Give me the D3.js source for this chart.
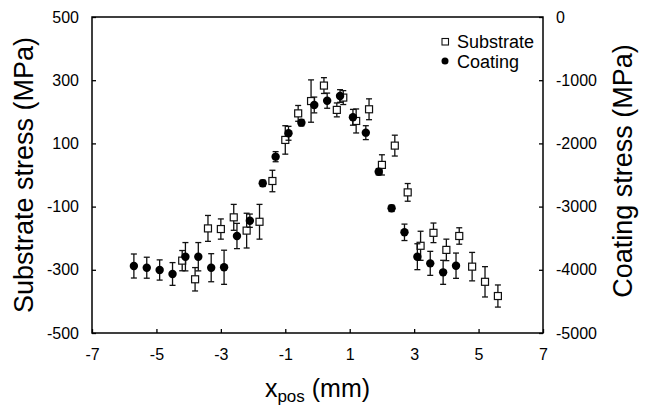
<!DOCTYPE html>
<html>
<head>
<meta charset="utf-8">
<script src="https://cdn.jsdelivr.net/npm/d3@7"></script>
<style>
  body { margin: 0; background: #fff; }
  svg text { font-family: "Liberation Sans", Arial, sans-serif; fill: #000; }
</style>
</head>
<body>
<div id="chart"></div>
<script>

// substrate (open squares, left axis)
var sub_x   = [-4.2, -3.8, -3.4, -3.0, -2.6, -2.2, -1.8, -1.4, -1.0, -0.6, -0.2, 0.2, 0.6, 0.8, 1.2, 1.6, 2.0, 2.4, 2.8, 3.2, 3.6, 4.0, 4.4, 4.8, 5.2, 5.6];
var sub_val = [-271, -330, -169, -171, -134, -176, -148, -19, 111, 195, 234, 283, 206, 245, 171, 208, 32, 93, -55, -224, -183, -237, -193, -290, -338, -383];
var sub_err = [32, 37, 41, 32, 41, 55, 55, 34, 45, 25, 67, 25, 22, 22, 38, 33, 32, 33, 28, 46, 31, 34, 26, 45, 48, 35];

// coating (filled circles, right axis)
var coat_x   = [-5.7, -5.3, -4.9, -4.5, -4.1, -3.7, -3.3, -2.9, -2.5, -2.1, -1.7, -1.3, -0.9, -0.5, -0.1, 0.3, 0.7, 1.1, 1.5, 1.9, 2.3, 2.7, 3.1, 3.5, 3.9, 4.3];
var coat_val = [-3940, -3967, -4003, -4066, -3793, -3793, -3967, -3960, -3465, -3223, -2631, -2210, -1840, -1672, -1392, -1324, -1250, -1587, -1830, -2448, -3027, -3407, -3793, -3898, -4040, -3935];
var coat_err = [190, 166, 160, 180, 224, 224, 222, 270, 200, 105, 50, 80, 110, 50, 125, 120, 100, 125, 110, 50, 50, 130, 205, 190, 190, 200];

var x_ticks = [-7, -5, -3, -1, 1, 3, 5, 7];
var left_ticks = [500, 300, 100, -100, -300, -500];
var right_ticks = [0, -1000, -2000, -3000, -4000, -5000];

var width = 648, height = 405;
var margin = {left: 92, right: 105, top: 17, bottom: 72};

var svg = d3.select("#chart").append("svg")
    .attr("width", width)
    .attr("height", height);

var x = d3.scaleLinear().domain([-7, 7]).range([margin.left, width - margin.right]);
var yL = d3.scaleLinear().domain([-500, 500]).range([height - margin.bottom, margin.top]);
var yR = d3.scaleLinear().domain([-5000, 0]).range([height - margin.bottom, margin.top]);

var x0 = x.range()[0], x1 = x.range()[1];
var yb = yL.range()[0], yt = yL.range()[1];

// plain hyphen minus, no thousands comma
var fmt = function(d) { return String(d); };

// axes with inward ticks
var gx = svg.append("g").attr("transform", "translate(0," + yb + ")")
    .call(d3.axisBottom(x).tickValues(x_ticks).tickFormat(fmt).tickSizeInner(-4).tickSizeOuter(0).tickPadding(22));
var gl = svg.append("g").attr("transform", "translate(" + x0 + ",0)")
    .call(d3.axisLeft(yL).tickValues(left_ticks).tickFormat(fmt).tickSizeInner(-4).tickSizeOuter(0).tickPadding(13));
var gr = svg.append("g").attr("transform", "translate(" + x1 + ",0)")
    .call(d3.axisRight(yR).tickValues(right_ticks).tickFormat(fmt).tickSizeInner(-4).tickSizeOuter(0).tickPadding(13));

[gx, gl, gr].forEach(function(g) {
  g.selectAll("path").remove();
  g.selectAll("line").attr("stroke", "#000").attr("stroke-width", 1.3);
  g.selectAll("text").attr("font-size", "16px").attr("font-family", "Liberation Sans, Arial, sans-serif");
});
gx.selectAll(".tick text").attr("dy", "0.32em");

// plot frame
svg.append("rect")
    .attr("x", x0).attr("y", yt)
    .attr("width", x1 - x0).attr("height", yb - yt)
    .attr("fill", "none").attr("stroke", "#000").attr("stroke-width", 1.5);

var sub_data = sub_x.map(function(d, i) { return {x: d, v: sub_val[i], e: sub_err[i]}; });
var coat_data = coat_x.map(function(d, i) { return {x: d, v: coat_val[i], e: coat_err[i]}; });

function draw_errorbars(data, y) {
  var g = svg.append("g").attr("stroke", "#111").attr("stroke-width", 1.3);
  g.selectAll(".ebar").data(data).enter().append("line")
      .attr("x1", function(d) { return x(d.x); })
      .attr("x2", function(d) { return x(d.x); })
      .attr("y1", function(d) { return y(d.v - d.e); })
      .attr("y2", function(d) { return y(d.v + d.e); });
  g.selectAll(".ctop").data(data).enter().append("line")
      .attr("x1", function(d) { return x(d.x) - 3; })
      .attr("x2", function(d) { return x(d.x) + 3; })
      .attr("y1", function(d) { return y(d.v + d.e); })
      .attr("y2", function(d) { return y(d.v + d.e); });
  g.selectAll(".cbot").data(data).enter().append("line")
      .attr("x1", function(d) { return x(d.x) - 3; })
      .attr("x2", function(d) { return x(d.x) + 3; })
      .attr("y1", function(d) { return y(d.v - d.e); })
      .attr("y2", function(d) { return y(d.v - d.e); });
}

draw_errorbars(sub_data, yL);
svg.selectAll(".sq").data(sub_data).enter().append("rect")
    .attr("x", function(d) { return x(d.x) - 3.5; })
    .attr("y", function(d) { return yL(d.v) - 3.5; })
    .attr("width", 7).attr("height", 7)
    .attr("fill", "#fff").attr("stroke", "#111").attr("stroke-width", 1.2);

draw_errorbars(coat_data, yR);
svg.selectAll(".dot").data(coat_data).enter().append("circle")
    .attr("cx", function(d) { return x(d.x); })
    .attr("cy", function(d) { return yR(d.v); })
    .attr("r", 4.2)
    .attr("fill", "#000");

// legend
svg.append("rect").attr("x", 442).attr("y", 38.5).attr("width", 6.5).attr("height", 6.5)
    .attr("fill", "#fff").attr("stroke", "#111").attr("stroke-width", 1.1);
svg.append("text").attr("x", 457).attr("y", 47.5).attr("font-size", "18px").text("Substrate");
svg.append("circle").attr("cx", 445).attr("cy", 61).attr("r", 3.5).attr("fill", "#000");
svg.append("text").attr("x", 457).attr("y", 67.5).attr("font-size", "18px").text("Coating");

// axis titles
svg.append("text")
    .attr("transform", "translate(33," + ((yt + yb) / 2) + ") rotate(-90)")
    .attr("text-anchor", "middle").attr("font-size", "27px")
    .text("Substrate stress (MPa)");
svg.append("text")
    .attr("transform", "translate(632,171) rotate(-90)")
    .attr("text-anchor", "middle").attr("font-size", "27px")
    .text("Coating stress (MPa)");

var xt = svg.append("text")
    .attr("x", (x0 + x1) / 2).attr("y", 397)
    .attr("text-anchor", "middle").attr("font-size", "25px");
xt.append("tspan").text("x");
xt.append("tspan").attr("font-size", "17px").attr("dy", 5).text("pos");
xt.append("tspan").attr("dy", -5).text(" (mm)");

</script>
</body>
</html>
